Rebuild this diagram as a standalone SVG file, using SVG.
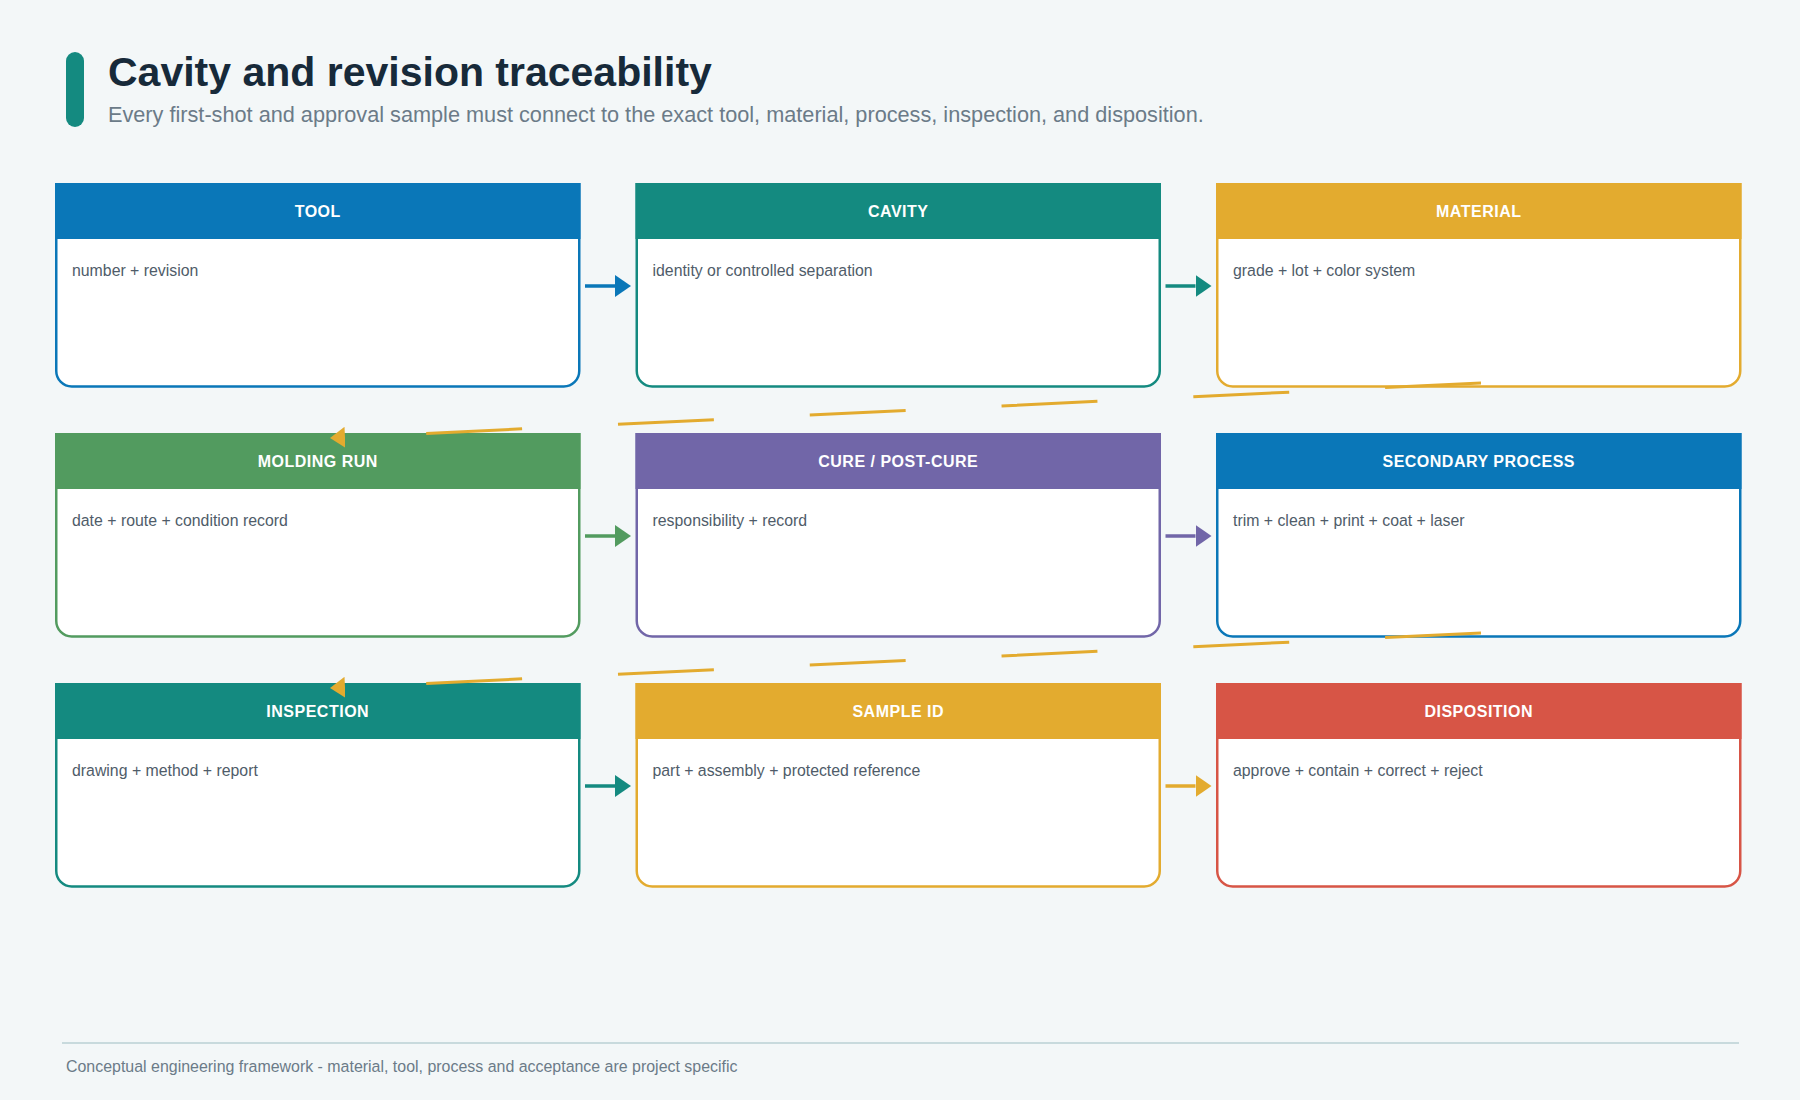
<svg xmlns="http://www.w3.org/2000/svg" width="1800" height="1100" viewBox="0 0 1800 1100">
  <defs>
    <style>
      .title { font-family: "Liberation Sans", Arial, sans-serif; font-weight: 700; font-size: 41px; fill: #172a3a; }
      .subtitle { font-family: "Liberation Sans", Arial, sans-serif; font-size: 21.7px; fill: #6b7b88; }
      .hdr { font-family: "Liberation Sans", Arial, sans-serif; font-weight: 700; font-size: 16px; letter-spacing: 0.5px; fill: #ffffff; text-anchor: middle; }
      .body { font-family: "Liberation Sans", Arial, sans-serif; font-size: 15.85px; fill: #4f5c69; }
      .footer { font-family: "Liberation Sans", Arial, sans-serif; font-size: 15.95px; fill: #6b7b88; }
      .box { fill: #ffffff; stroke-width: 2.5; }
      .flow { fill: none; stroke-width: 3.5; }
      .wrap { fill: none; stroke: #e3ab2f; stroke-width: 3; stroke-dasharray: 96 96; }
      .blue { stroke: #0a77b8; } .blueF { fill: #0a77b8; }
      .teal { stroke: #148a80; } .tealF { fill: #148a80; }
      .gold { stroke: #e3ab2f; } .goldF { fill: #e3ab2f; }
      .green { stroke: #529b5f; } .greenF { fill: #529b5f; }
      .purple { stroke: #7166a8; } .purpleF { fill: #7166a8; }
      .red { stroke: #d75546; } .redF { fill: #d75546; }
    </style>
    <marker id="mBlue" markerUnits="userSpaceOnUse" markerWidth="16" markerHeight="22" refX="0" refY="11" orient="auto"><path d="M0,0 L16,11 L0,22 Z" fill="#0a77b8"/></marker>
    <marker id="mTeal" markerUnits="userSpaceOnUse" markerWidth="16" markerHeight="22" refX="0" refY="11" orient="auto"><path d="M0,0 L16,11 L0,22 Z" fill="#148a80"/></marker>
    <marker id="mGreen" markerUnits="userSpaceOnUse" markerWidth="16" markerHeight="22" refX="0" refY="11" orient="auto"><path d="M0,0 L16,11 L0,22 Z" fill="#529b5f"/></marker>
    <marker id="mPurple" markerUnits="userSpaceOnUse" markerWidth="16" markerHeight="22" refX="0" refY="11" orient="auto"><path d="M0,0 L16,11 L0,22 Z" fill="#7166a8"/></marker>
    <marker id="mGold" markerUnits="userSpaceOnUse" markerWidth="16" markerHeight="22" refX="0" refY="11" orient="auto"><path d="M0,0 L16,11 L0,22 Z" fill="#e3ab2f"/></marker>
    <marker id="mWrap" markerUnits="userSpaceOnUse" markerWidth="15" markerHeight="21" refX="0" refY="10.5" orient="auto"><path d="M0,0 L15,10.5 L0,21 Z" fill="#e3ab2f"/></marker>
  </defs>

  <rect x="0" y="0" width="1800" height="1100" fill="#f3f7f8"/>

  <g id="header">
    <rect x="66" y="52" width="18" height="75" rx="9" fill="#148a80"/>
    <text class="title" x="108" y="86">Cavity and revision traceability</text>
    <text class="subtitle" x="108" y="122">Every first-shot and approval sample must connect to the exact tool, material, process, inspection, and disposition.</text>
  </g>

  <g id="node-tool">
    <path class="box blue" d="M56.25,184.25 H579.25 V371 A15.5,15.5 0 0 1 563.75,386.5 H71.75 A15.5,15.5 0 0 1 56.25,371 Z"/>
    <rect class="blueF" x="55" y="183" width="525.5" height="56"/>
    <text class="hdr" x="317.75" y="217">TOOL</text>
    <text class="body" x="72" y="276">number + revision</text>
  </g>
  <g id="node-cavity">
    <path class="box teal" d="M636.75,184.25 H1159.75 V371 A15.5,15.5 0 0 1 1144.25,386.5 H652.25 A15.5,15.5 0 0 1 636.75,371 Z"/>
    <rect class="tealF" x="635.5" y="183" width="525.5" height="56"/>
    <text class="hdr" x="898.25" y="217">CAVITY</text>
    <text class="body" x="652.5" y="276">identity or controlled separation</text>
  </g>
  <g id="node-material">
    <path class="box gold" d="M1217.25,184.25 H1740.25 V371 A15.5,15.5 0 0 1 1724.75,386.5 H1232.75 A15.5,15.5 0 0 1 1217.25,371 Z"/>
    <rect class="goldF" x="1216" y="183" width="525.5" height="56"/>
    <text class="hdr" x="1478.75" y="217">MATERIAL</text>
    <text class="body" x="1233" y="276">grade + lot + color system</text>
  </g>

  <g id="node-molding">
    <path class="box green" d="M56.25,434.25 H579.25 V621 A15.5,15.5 0 0 1 563.75,636.5 H71.75 A15.5,15.5 0 0 1 56.25,621 Z"/>
    <rect class="greenF" x="55" y="433" width="525.5" height="56"/>
    <text class="hdr" x="317.75" y="467">MOLDING RUN</text>
    <text class="body" x="72" y="526">date + route + condition record</text>
  </g>
  <g id="node-cure">
    <path class="box purple" d="M636.75,434.25 H1159.75 V621 A15.5,15.5 0 0 1 1144.25,636.5 H652.25 A15.5,15.5 0 0 1 636.75,621 Z"/>
    <rect class="purpleF" x="635.5" y="433" width="525.5" height="56"/>
    <text class="hdr" x="898.25" y="467">CURE / POST-CURE</text>
    <text class="body" x="652.5" y="526">responsibility + record</text>
  </g>
  <g id="node-secondary">
    <path class="box blue" d="M1217.25,434.25 H1740.25 V621 A15.5,15.5 0 0 1 1724.75,636.5 H1232.75 A15.5,15.5 0 0 1 1217.25,621 Z"/>
    <rect class="blueF" x="1216" y="433" width="525.5" height="56"/>
    <text class="hdr" x="1478.75" y="467">SECONDARY PROCESS</text>
    <text class="body" x="1233" y="526">trim + clean + print + coat + laser</text>
  </g>

  <g id="node-inspection">
    <path class="box teal" d="M56.25,684.25 H579.25 V871 A15.5,15.5 0 0 1 563.75,886.5 H71.75 A15.5,15.5 0 0 1 56.25,871 Z"/>
    <rect class="tealF" x="55" y="683" width="525.5" height="56"/>
    <text class="hdr" x="317.75" y="717">INSPECTION</text>
    <text class="body" x="72" y="776">drawing + method + report</text>
  </g>
  <g id="node-sample">
    <path class="box gold" d="M636.75,684.25 H1159.75 V871 A15.5,15.5 0 0 1 1144.25,886.5 H652.25 A15.5,15.5 0 0 1 636.75,871 Z"/>
    <rect class="goldF" x="635.5" y="683" width="525.5" height="56"/>
    <text class="hdr" x="898.25" y="717">SAMPLE ID</text>
    <text class="body" x="652.5" y="776">part + assembly + protected reference</text>
  </g>
  <g id="node-disposition">
    <path class="box red" d="M1217.25,684.25 H1740.25 V871 A15.5,15.5 0 0 1 1724.75,886.5 H1232.75 A15.5,15.5 0 0 1 1217.25,871 Z"/>
    <rect class="redF" x="1216" y="683" width="525.5" height="56"/>
    <text class="hdr" x="1478.75" y="717">DISPOSITION</text>
    <text class="body" x="1233" y="776">approve + contain + correct + reject</text>
  </g>

  <g id="connectors">
    <line class="flow blue" x1="585" y1="286" x2="615" y2="286" marker-end="url(#mBlue)"/>
    <line class="flow teal" x1="1165.5" y1="286" x2="1195.5" y2="286" marker-end="url(#mTeal)"/>
    <line class="flow green" x1="585" y1="536" x2="615" y2="536" marker-end="url(#mGreen)"/>
    <line class="flow purple" x1="1165.5" y1="536" x2="1195.5" y2="536" marker-end="url(#mPurple)"/>
    <line class="flow teal" x1="585" y1="786" x2="615" y2="786" marker-end="url(#mTeal)"/>
    <line class="flow gold" x1="1165.5" y1="786" x2="1195.5" y2="786" marker-end="url(#mGold)"/>
    <line class="wrap" x1="1481" y1="383" x2="345" y2="437.3" marker-end="url(#mWrap)"/>
    <line class="wrap" x1="1481" y1="633" x2="345" y2="687.3" marker-end="url(#mWrap)"/>
  </g>

  <g id="footer">
    <line x1="62" y1="1043" x2="1739" y2="1043" stroke="#c8dadd" stroke-width="2"/>
    <text class="footer" x="66" y="1072">Conceptual engineering framework - material, tool, process and acceptance are project specific</text>
  </g>
</svg>
